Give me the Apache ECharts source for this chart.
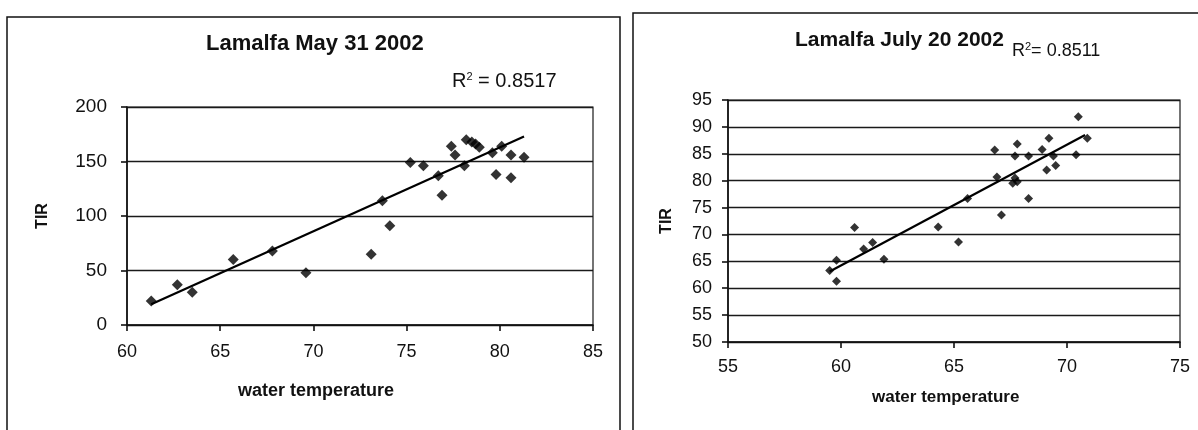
<!DOCTYPE html>
<html>
<head>
<meta charset="utf-8">
<script src="https://cdn.jsdelivr.net/npm/echarts@6/dist/echarts.min.js"></script>
<style>
  html, body { margin: 0; padding: 0; background: #fff; }
  #chart { width: 1198px; height: 430px; }
</style>
</head>
<body>
<div id="chart"></div>
<script>
// May 31 2002 panel
var mayTemp = [61.3, 62.7, 63.5, 65.7, 67.8, 69.6, 73.1, 73.7, 74.1, 75.2, 75.9, 76.7, 76.9,
  77.4, 77.6, 78.1, 78.2, 78.5, 78.7, 78.9, 79.6, 79.8, 80.1, 80.6, 80.6, 81.3];
var mayTir = [22, 37, 30, 60, 68, 48, 65, 114, 91, 149, 146, 137, 119,
  164, 156, 146, 170, 168, 166, 163, 158, 138, 164, 156, 135, 154];
var mayTrendX = [61.3, 81.3];
var mayTrendY = [19, 173];

// July 20 2002 panel
var julTemp = [59.5, 59.8, 59.8, 60.6, 61.0, 61.4, 61.9, 64.3, 65.2, 65.6, 66.8, 66.9, 67.1,
  67.6, 67.8, 67.7, 67.8, 67.7, 68.3, 68.3, 68.9, 69.1, 69.2, 69.4, 69.5, 70.5, 70.4, 70.9];
var julTir = [63.3, 65.2, 61.3, 71.3, 67.3, 68.5, 65.4, 71.4, 68.6, 76.7, 85.7, 80.7, 73.6,
  79.5, 79.8, 80.5, 86.8, 84.6, 84.6, 76.7, 85.8, 82.0, 87.9, 84.6, 82.8, 91.9, 84.8, 87.9];
var julTrendX = [59.5, 70.8];
var julTrendY = [63.1, 88.5];

var mayTicks = [60, 85, 5, 0, 200, 50];
var julTicks = [55, 75, 5, 50, 95, 5];

function pairs(xs, ys) {
  return xs.map(function (x, i) { return [x, ys[i]]; });
}

var FONT = 'Liberation Sans, Arial, sans-serif';
var ink = '#111';

function xAxisOf(idx, t, labelSize, margin) {
  return {
    type: 'value', gridIndex: idx, min: t[0], max: t[1], interval: t[2],
    axisLine: { show: true, lineStyle: { color: ink, width: 1.6 } },
    axisTick: { show: true, length: 6, lineStyle: { color: ink, width: 1.6 } },
    axisLabel: { fontFamily: FONT, fontSize: labelSize, color: ink, margin: margin },
    splitLine: { show: false }
  };
}

function yAxisOf(idx, t, labelSize, margin, nameGap) {
  return {
    type: 'value', gridIndex: idx, min: t[3], max: t[4], interval: t[5],
    name: 'TIR', nameLocation: 'middle', nameGap: nameGap,
    nameTextStyle: { fontFamily: FONT, fontWeight: 'bold', fontSize: 16, color: ink },
    axisLine: { show: true, lineStyle: { color: ink, width: 1.6 } },
    axisTick: { show: true, length: 6, lineStyle: { color: ink, width: 1.6 } },
    axisLabel: { fontFamily: FONT, fontSize: labelSize, color: ink, margin: margin },
    splitLine: { show: true, lineStyle: { color: '#1a1a1a', width: 1.4 } }
  };
}

var sup = { s: { fontSize: 11, verticalAlign: 'top', padding: [0, 0, 9, 0] } };

var chart = echarts.init(document.getElementById('chart'));
chart.setOption({
  backgroundColor: '#fff',
  animation: false,
  graphic: [
    { type: 'rect', shape: { x: 7, y: 17, width: 613, height: 440 },
      style: { fill: 'none', stroke: ink, lineWidth: 1.5 } },
    { type: 'rect', shape: { x: 633, y: 13, width: 580, height: 440 },
      style: { fill: 'none', stroke: ink, lineWidth: 1.5 } },
    { type: 'text', left: 206, top: 33,
      style: { text: 'Lamalfa May 31 2002', font: 'bold 22px ' + FONT, fill: ink } },
    { type: 'text', left: 452, top: 71,
      style: { text: 'R{s|2} = 0.8517', font: '20px ' + FONT, fill: ink, rich: sup } },
    { type: 'text', left: 795, top: 30,
      style: { text: 'Lamalfa July 20 2002', font: 'bold 21px ' + FONT, fill: ink } },
    { type: 'text', left: 1012, top: 41,
      style: { text: 'R{s|2}= 0.8511', font: '18px ' + FONT, fill: ink, rich: sup } },
    { type: 'text', left: 238, top: 382,
      style: { text: 'water temperature', font: 'bold 18px ' + FONT, fill: ink } },
    { type: 'text', left: 872, top: 389,
      style: { text: 'water temperature', font: 'bold 17px ' + FONT, fill: ink } }
  ],
  grid: [
    { left: 127, top: 107, width: 466, height: 218, show: true,
      borderColor: '#1a1a1a', borderWidth: 1.2, backgroundColor: 'transparent' },
    { left: 728, top: 100, width: 452, height: 242, show: true,
      borderColor: '#1a1a1a', borderWidth: 1.2, backgroundColor: 'transparent' }
  ],
  xAxis: [
    xAxisOf(0, mayTicks, 18, 18),
    xAxisOf(1, julTicks, 18, 16)
  ],
  yAxis: [
    yAxisOf(0, mayTicks, 19, 20, 76),
    yAxisOf(1, julTicks, 18, 16, 53)
  ],
  series: [
    { type: 'scatter', xAxisIndex: 0, yAxisIndex: 0, data: pairs(mayTemp, mayTir),
      symbol: 'diamond', symbolSize: 11, itemStyle: { color: '#000' } },
    { type: 'line', xAxisIndex: 0, yAxisIndex: 0, data: pairs(mayTrendX, mayTrendY),
      symbol: 'none', lineStyle: { color: '#000', width: 2.2 } },
    { type: 'scatter', xAxisIndex: 1, yAxisIndex: 1, data: pairs(julTemp, julTir),
      symbol: 'diamond', symbolSize: 9, itemStyle: { color: '#000' } },
    { type: 'line', xAxisIndex: 1, yAxisIndex: 1, data: pairs(julTrendX, julTrendY),
      symbol: 'none', lineStyle: { color: '#000', width: 2.2 } }
  ]
});
</script>
</body>
</html>
